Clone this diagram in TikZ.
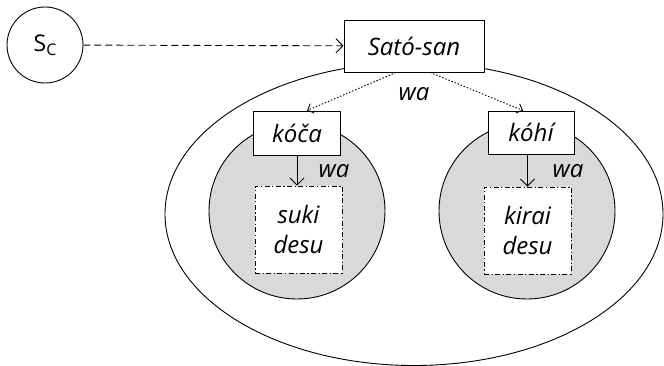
\documentclass[tikz,border=0pt]{standalone}
\usepackage{fontspec}
\setmainfont{Open Sans}
\usetikzlibrary{arrows.meta}

\begin{document}
\begin{tikzpicture}[x=1pt,y=-1pt,line width=0.9pt,font=\fontsize{24}{30}\selectfont\itshape,
        barb/.style={-{Straight Barb[length=7pt,width=14pt]}},
        smallbarb/.style={-{Straight Barb[length=5pt,width=10pt]}}]
        \useasboundingbox (0,0) rectangle (664,366);
        \begin{scope}
            % the outer ellipse and the two grey fields
            \draw (414,214) ellipse [x radius=249, y radius=151.5];
            \begin{scope}[every node/.style={circle,draw,fill=black!15,minimum size=176pt}]
              \node (lc) at (297,211) {};
              \node (rc) at (527,211) {};
            \end{scope}
            \node[circle,draw,minimum size=76pt,font=\fontsize{23}{25}\selectfont\upshape] (sc) at (45,45)
                {S\raisebox{-0.35ex}{\fontsize{16}{16}\selectfont C}};
            \begin{scope}[every node/.style={rectangle,draw,fill=white,inner sep=0pt}]
              \node[minimum width=140pt,minimum height=52pt] (sato) at (414,46) {Sató-san};
              \node[minimum width=87pt,minimum height=44pt] (koca) at (297,133) {kóča};
              \node[minimum width=86pt,minimum height=43pt] (kohi) at (531,132.5) {kóhí};
              \node[dash pattern=on 5pt off 2.5pt on 1.2pt off 2.5pt,minimum width=87pt,minimum height=87pt,align=center] (suki) at (298.5,229.5) {suki\\desu};
              \node[dash pattern=on 5pt off 2.5pt on 1.2pt off 2.5pt,minimum width=87pt,minimum height=87pt,align=center] (kirai) at (527.5,230.5) {kirai\\desu};
            \end{scope}
            \node (wa1) at (414,94) {wa};
            \node (wa2) at (334,171) {wa};
            \node (wa3) at (568,171) {wa};
            \begin{scope}[every edge/.style={draw=black,barb}]
                \path (sc) edge[dash pattern=on 7pt off 4pt] (sato)
                      ([xshift=-18pt]sato.south) edge[dash pattern=on 1.5pt off 1.8pt,smallbarb] ([xshift=10pt]koca.north)
                      ([xshift=16pt]sato.south) edge[dash pattern=on 1.5pt off 1.8pt,smallbarb] ([xshift=-8pt]kohi.north)
                      (koca.south) edge (koca.south |- suki.north)
                      (kohi.south -| kirai.north) edge (kirai.north);
            \end{scope}
        \end{scope}
    \end{tikzpicture}
\end{document}
